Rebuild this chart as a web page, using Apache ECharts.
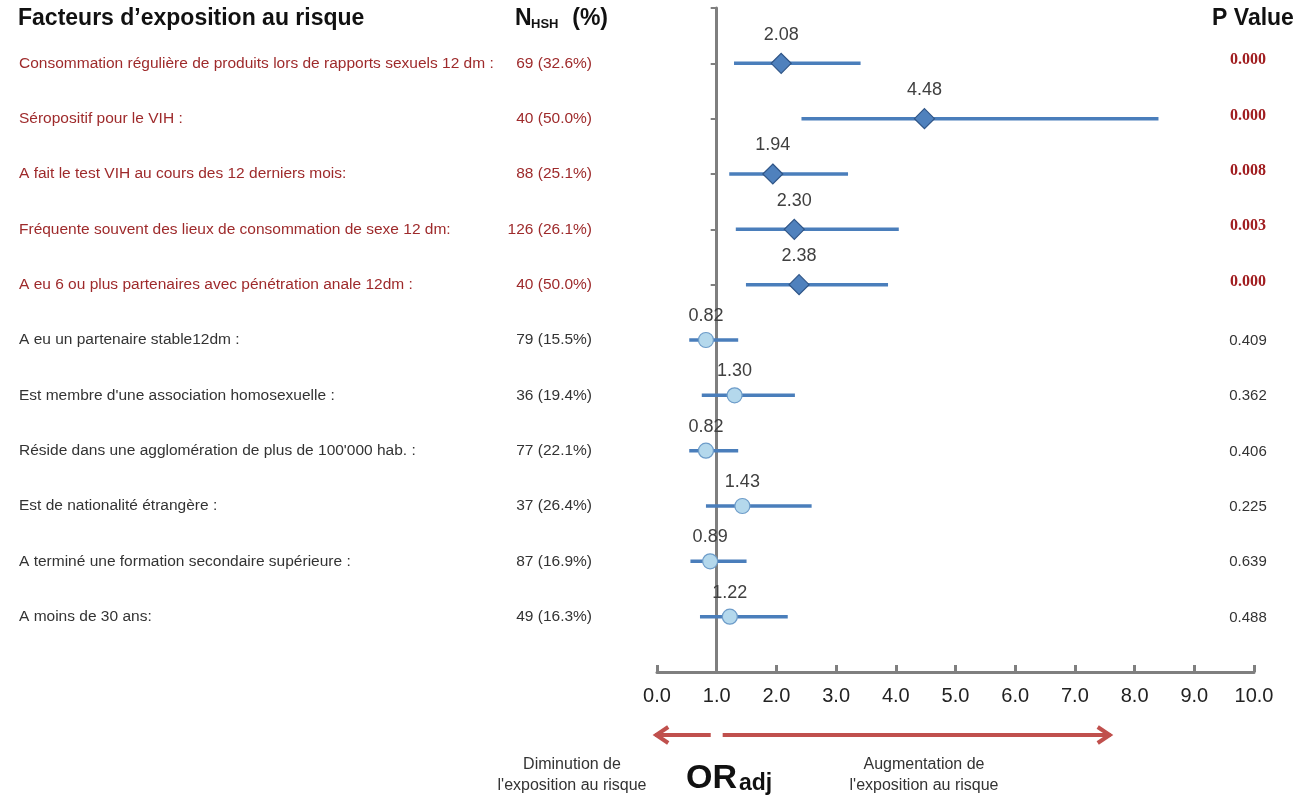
<!DOCTYPE html>
<html>
<head>
<meta charset="utf-8">
<script src="https://cdn.jsdelivr.net/npm/echarts@6/dist/echarts.min.js"></script>
<style>
html,body{margin:0;padding:0;background:#fff;}
#chart{width:1299px;height:795px;}
</style>
</head>
<body>
<div id="chart"></div>
<script>
// ---- data ----
const factors = [
  "Consommation régulière de produits lors de rapports sexuels 12 dm :",
  "Séropositif pour le VIH :",
  "A fait le test VIH au cours des 12 derniers mois:",
  "Fréquente souvent des lieux de consommation de sexe 12 dm:",
  "A eu 6 ou plus partenaires avec pénétration anale 12dm :",
  "A eu un partenaire stable12dm :",
  "Est membre d'une association homosexuelle :",
  "Réside dans une agglomération de plus de 100'000 hab. :",
  "Est de nationalité étrangère :",
  "A terminé une formation secondaire supérieure :",
  "A moins de 30 ans:"
];
const nCounts = ["69 (32.6%)","40 (50.0%)","88 (25.1%)","126 (26.1%)","40 (50.0%)","79 (15.5%)","36 (19.4%)","77 (22.1%)","37 (26.4%)","87 (16.9%)","49 (16.3%)"];
const pValues = ["0.000","0.000","0.008","0.003","0.000","0.409","0.362","0.406","0.225","0.639","0.488"];
const orValues = [2.08,4.48,1.94,2.30,2.38,0.82,1.30,0.82,1.43,0.89,1.22];
const ciLow  = [1.29,2.42,1.21,1.32,1.49,0.54,0.75,0.54,0.82,0.56,0.72];
const ciHigh = [3.41,8.40,3.20,4.05,3.87,1.36,2.31,1.36,2.59,1.50,2.19];
const significant = [true,true,true,true,true,false,false,false,false,false,false];
const xMin = 0, xMax = 10, xInterval = 1;

// ---- build ----
const rows = factors.map((f, i) => i + 1);
const ciData = rows.map((r, i) => [ciLow[i], ciHigh[i], r]);
const sigData = rows.filter((r, i) => significant[i]).map(r => [orValues[r - 1], r]);
const nsData = rows.filter((r, i) => !significant[i]).map(r => [orValues[r - 1], r]);

const RED = '#9e2a2b';
const GREY_TXT = '#333333';
const AXIS = '#7f7f7f';
const BLUE = '#4a7ebb';

const chart = echarts.init(document.getElementById('chart'), null, {renderer: 'canvas'});
const GRID = {left: 657, right: 45, top: 8, bottom: 123};
const gridW = 1299 - GRID.left - GRID.right;

const option = {
  backgroundColor: '#ffffff',
  animation: false,
  grid: GRID,
  xAxis: {
    type: 'value', min: xMin, max: xMax, interval: xInterval,
    axisLine: {show: true, onZero: false, lineStyle: {color: AXIS, width: 3}},
    axisTick: {show: true, inside: true, length: 7, lineStyle: {color: AXIS, width: 3}},
    axisLabel: {formatter: v => v.toFixed(1), fontFamily: 'Liberation Sans, Arial, sans-serif', fontSize: 20, color: '#222', margin: 14},
    splitLine: {show: false}
  },
  yAxis: {
    type: 'value', min: 0, max: factors.length + 1, interval: 1, inverse: true,
    offset: -gridW * (1 - xMin) / (xMax - xMin),
    axisLine: {show: true, onZero: false, lineStyle: {color: AXIS, width: 3}},
    axisTick: {show: true, length: 6, lineStyle: {color: AXIS, width: 2}},
    axisLabel: {show: false},
    splitLine: {show: false}
  },
  series: [
    {
      type: 'custom',
      data: ciData,
      encode: {x: [0, 1], y: 2},
      z: 2,
      renderItem: function (params, api) {
        const p1 = api.coord([api.value(0), api.value(2)]);
        const p2 = api.coord([api.value(1), api.value(2)]);
        return {type: 'line', shape: {x1: p1[0], y1: p1[1], x2: p2[0], y2: p2[1]},
          style: {stroke: BLUE, lineWidth: 3.5}};
      }
    },
    {
      type: 'scatter', data: sigData, symbol: 'diamond', symbolSize: 20, z: 3,
      itemStyle: {color: '#4f81bd', borderColor: '#2f5587', borderWidth: 1.2, opacity: 1},
      label: {show: true, position: 'top', distance: 9, formatter: p => p.value[0].toFixed(2),
        fontFamily: 'Liberation Sans, Arial, sans-serif', fontSize: 18, color: '#404040'}
    },
    {
      type: 'scatter', data: nsData, symbol: 'circle', symbolSize: 15, z: 3,
      itemStyle: {color: '#b4d8ec', borderColor: '#6d9cc9', borderWidth: 1.2, opacity: 1},
      label: {show: true, position: 'top', distance: 7, formatter: p => p.value[0].toFixed(2),
        fontFamily: 'Liberation Sans, Arial, sans-serif', fontSize: 18, color: '#404040'}
    }
  ]
};
chart.setOption(option);

// ---- text columns and annotations, positioned through the axes ----
const SANS = 'Liberation Sans, Arial, sans-serif';
const g = [];
const yOf = r => chart.convertToPixel({yAxisIndex: 0}, r);
const xOf = v => chart.convertToPixel({xAxisIndex: 0}, v);

const HDR = 'bold 23px ' + SANS;
g.push({type: 'text', x: 18, y: 19, style: {text: "Facteurs d’exposition au risque", font: HDR, fill: '#111', textVerticalAlign: 'middle'}});
g.push({type: 'text', x: 515, y: 19, style: {text: 'N', font: HDR, fill: '#111', textVerticalAlign: 'middle'}});
g.push({type: 'text', x: 531, y: 24, style: {text: 'HSH', font: 'bold 13px ' + SANS, fill: '#111', textVerticalAlign: 'middle'}});
g.push({type: 'text', x: 608, y: 19, style: {text: '(%)', font: HDR, fill: '#111', textAlign: 'right', textVerticalAlign: 'middle'}});
g.push({type: 'text', x: 1253, y: 19, style: {text: 'P Value', font: HDR, fill: '#111', textAlign: 'center', textVerticalAlign: 'middle'}});

factors.forEach((f, i) => {
  const y = yOf(i + 1);
  const col = significant[i] ? RED : GREY_TXT;
  g.push({type: 'text', x: 19, y: y, style: {text: f, font: '15.5px ' + SANS, fill: col, textVerticalAlign: 'middle'}});
  g.push({type: 'text', x: 592, y: y, style: {text: nCounts[i], font: '15.5px ' + SANS, fill: col, textAlign: 'right', textVerticalAlign: 'middle'}});
  g.push({type: 'text', x: 1248, y: significant[i] ? y - 3 : y + 1, style: {text: pValues[i],
    font: significant[i] ? 'bold 16px Liberation Serif, Times New Roman, serif' : '15px ' + SANS,
    fill: significant[i] ? '#a01c1f' : GREY_TXT, textAlign: 'center', textVerticalAlign: 'middle'}});
});

// arrows
const ay = 735, ARROW = '#c0504d';
const lx1 = xOf(0.9), lx2 = xOf(-0.03);
const rx1 = xOf(1.1), rx2 = xOf(7.6);
g.push({type: 'polyline', shape: {points: [[lx1, ay], [lx2, ay]]}, style: {stroke: ARROW, lineWidth: 4}});
g.push({type: 'polyline', shape: {points: [[lx2 + 13, ay - 8], [lx2 + 1, ay], [lx2 + 13, ay + 8]]}, style: {stroke: ARROW, lineWidth: 4, fill: null, lineJoin: 'miter'}});
g.push({type: 'polyline', shape: {points: [[rx1, ay], [rx2, ay]]}, style: {stroke: ARROW, lineWidth: 4}});
g.push({type: 'polyline', shape: {points: [[rx2 - 13, ay - 8], [rx2 - 1, ay], [rx2 - 13, ay + 8]]}, style: {stroke: ARROW, lineWidth: 4, fill: null, lineJoin: 'miter'}});

g.push({type: 'text', x: 572, y: 765, style: {text: 'Diminution de', font: '16px ' + SANS, fill: GREY_TXT, textAlign: 'center', textVerticalAlign: 'middle'}});
g.push({type: 'text', x: 572, y: 786, style: {text: "l'exposition au risque", font: '16px ' + SANS, fill: GREY_TXT, textAlign: 'center', textVerticalAlign: 'middle'}});
g.push({type: 'text', x: 924, y: 765, style: {text: 'Augmentation de', font: '16px ' + SANS, fill: GREY_TXT, textAlign: 'center', textVerticalAlign: 'middle'}});
g.push({type: 'text', x: 924, y: 786, style: {text: "l'exposition au risque", font: '16px ' + SANS, fill: GREY_TXT, textAlign: 'center', textVerticalAlign: 'middle'}});
g.push({type: 'text', x: 686, y: 779, style: {text: 'OR', font: 'bold 34px ' + SANS, fill: '#111', textVerticalAlign: 'middle'}});
g.push({type: 'text', x: 739, y: 784, style: {text: 'adj', font: 'bold 23px ' + SANS, fill: '#111', textVerticalAlign: 'middle'}});

chart.setOption({graphic: g});
</script>
</body>
</html>
